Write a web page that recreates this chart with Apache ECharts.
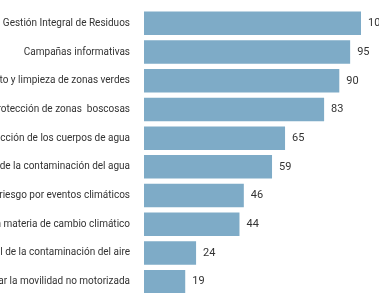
<!DOCTYPE html>
<html>
<head>
<meta charset="utf-8">
<script src="https://cdn.jsdelivr.net/npm/echarts@6/dist/echarts.min.js"></script>
<style>
  html, body { margin: 0; padding: 0; background: #fff; }
  #chart { width: 379px; height: 293px; }
</style>
</head>
<body>
<div id="chart"></div>
<script>
// categories top -> bottom
const categories = [
  'Gestión Integral de Residuos',
  'Campañas informativas',
  'Mantenimiento y limpieza de zonas verdes',
  'Protección de zonas  boscosas',
  'Protección de los cuerpos de agua',
  'Control de la contaminación del agua',
  'Prevención de riesgo por eventos climáticos',
  'Educación en materia de cambio climático',
  'Control de la contaminación del aire',
  'Fomentar la movilidad no motorizada'
]
const values = [100, 95, 90, 83, 65, 59, 46, 44, 24, 19]

const chart = echarts.init(document.getElementById('chart'))
chart.setOption({
  animation: false,
  grid: {
    left: 144,
    right: 18,
    top: 9,
    bottom: -3,
    containLabel: false,
    outerBoundsMode: 'none'
  },
  xAxis: {
    type: 'value',
    min: 0,
    max: 100,
    show: false
  },
  yAxis: {
    type: 'category',
    inverse: true,
    data: categories,
    axisLine: { show: false },
    axisTick: { show: false },
    axisLabel: {
      margin: 14,
      color: '#333',
      fontFamily: 'Roboto',
      fontSize: 10
    }
  },
  series: [
    {
      type: 'bar',
      data: values,
      barCategoryGap: '18%',
      itemStyle: { color: '#7eabc7' },
      label: {
        show: true,
        position: 'right',
        distance: 7,
        color: '#333',
        fontFamily: 'Roboto',
        fontSize: 11
      }
    }
  ]
})
</script>
</body>
</html>
